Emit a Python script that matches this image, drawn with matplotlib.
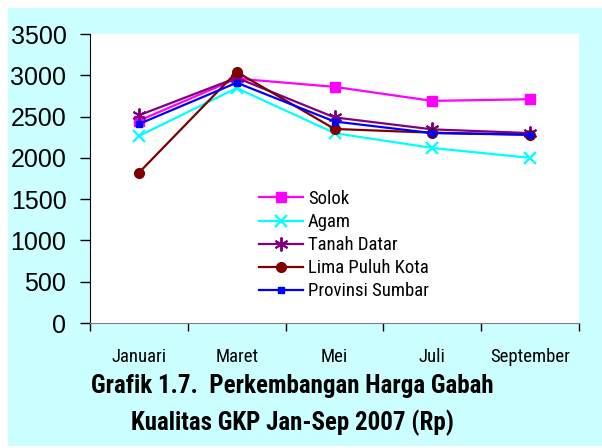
import matplotlib
matplotlib.use("Agg")
import matplotlib.pyplot as plt
from matplotlib.patches import Rectangle
from matplotlib import font_manager

bulan = ["Januari", "Maret", "Mei", "Juli", "September"]
solok = [2450, 2960, 2860, 2690, 2710]
agam = [2265, 2845, 2300, 2120, 2000]
tanah_datar = [2515, 2970, 2490, 2345, 2300]
lima_puluh_kota = [1820, 3040, 2350, 2305, 2280]
provinsi_sumbar = [2410, 2910, 2440, 2300, 2280]

nama_font = set(f.name for f in font_manager.fontManager.ttflist)
narrow = "Liberation Sans"
for kandidat in ["Liberation Sans Narrow", "Roboto Condensed", "Open Sans Condensed", "DejaVu Sans Condensed"]:
    if kandidat in nama_font:
        narrow = kandidat
        break

plt.rcParams['font.family'] = ['Liberation Sans', 'DejaVu Sans']

fig = plt.figure(figsize=(6.02, 4.48), dpi=100)
fig.patch.set_facecolor("white")
fig.patches.append(Rectangle((8/602, 2/448), 1 - 8/602, (446 - 8)/448,
                             transform=fig.transFigure, facecolor="#CCFFFF",
                             edgecolor="none", zorder=-10))

ax = fig.add_axes([90/602, (448-323)/448, (579-90)/602, (323-34)/448])
ax.set_zorder(1)
ax.set_facecolor("white")

x = list(range(len(bulan)))
ax.plot(x, solok, color="#FF00FF", lw=1.6, marker="s", ms=7, label="Solok")
ax.plot(x, agam, color="#00FFFF", lw=1.6, marker="x", ms=9, mew=1.6, label="Agam")
ax.plot(x, tanah_datar, color="#800080", lw=1.6, marker=(6, 2, 0), ms=10, mew=1.4, label="Tanah Datar")
ax.plot(x, lima_puluh_kota, color="#800000", lw=1.6, marker="o", ms=7, label="Lima Puluh Kota")
ax.plot(x, provinsi_sumbar, color="#0000FF", lw=1.6, marker="s", ms=4, label="Provinsi Sumbar")

ax.set_xlim(-0.5, 4.5)
ax.set_ylim(0, 3500)
ax.set_yticks(range(0, 3501, 500))
ax.tick_params(axis="y", labelsize=18, length=7, width=1, direction="out", pad=10)
ax.set_xticks(x)
ax.set_xticklabels(bulan, fontsize=13.5, family=narrow)
ax.set_xticks([i - 0.5 for i in range(6)], minor=True)
ax.tick_params(axis="x", which="major", length=0, pad=18)
ax.tick_params(axis="x", which="minor", length=6, width=1, direction="out")

ax.spines["top"].set_visible(False)
ax.spines["right"].set_visible(False)
ax.spines["left"].set_color("black")
ax.spines["bottom"].set_color("#808080")

ax.legend(loc="upper left", bbox_to_anchor=(0.345, 0.46), frameon=False,
          prop={"family": narrow, "size": 13.5}, handlelength=2.35,
          labelspacing=0.27, handletextpad=0.27, borderpad=0, borderaxespad=0)

fig.text(0.485, 0.138, "Grafik 1.7.  Perkembangan Harga Gabah", ha="center", va="center",
         fontsize=18, fontweight="bold", family=narrow)
fig.text(0.485, 0.056, "Kualitas GKP Jan-Sep 2007 (Rp)", ha="center", va="center",
         fontsize=18, fontweight="bold", family=narrow)

fig.savefig("out.png", dpi=100)
